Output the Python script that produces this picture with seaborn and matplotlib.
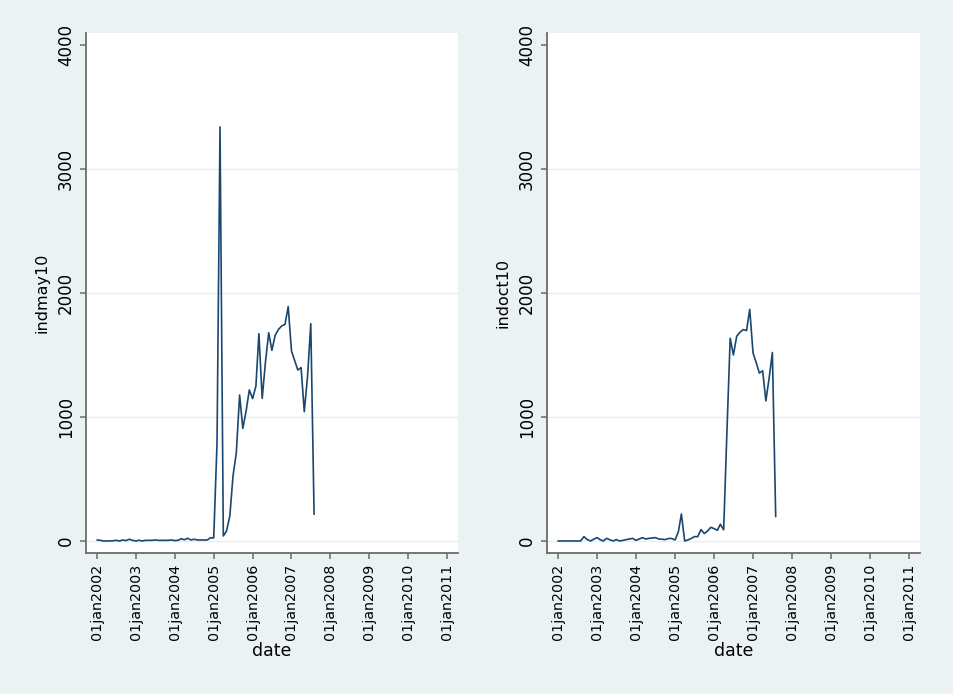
import numpy as np
import pandas as pd
import matplotlib
matplotlib.use("Agg")
import matplotlib.pyplot as plt
import seaborn as sns

# monthly series, Jan 2002 .. Aug 2007 (68 months)
start_month = "2002-01-01"
n_months = 68

indmay10 = [
    8, 5, 0, 0, 0, 2, 5, 0, 8, 3, 14, 5,
    0, 6, 0, 5, 5, 5, 8, 5, 5, 5, 5, 8,
    3, 5, 18, 10, 22, 8, 14, 8, 8, 8, 8, 25,
    25, 793, 3339, 40, 80, 200, 524, 712, 1177, 908, 1048, 1218,
    1148, 1250, 1672, 1150, 1438, 1680, 1538, 1659, 1707, 1734, 1747, 1890,
    1532, 1452, 1379, 1398, 1043, 1331, 1753, 215,
]

indoct10 = [
    0, 0, 0, 0, 0, 0, 0, 0, 35, 12, 0, 14,
    27, 10, 0, 21, 10, 0, 11, 0, 5, 11, 16, 21,
    5, 16, 27, 16, 21, 24, 27, 16, 14, 11, 20, 20,
    8, 75, 218, 0, 8, 20, 35, 35, 92, 60, 80, 110,
    100, 86, 135, 90, 870, 1635, 1500, 1651, 1684, 1705, 1697, 1868,
    1516, 1435, 1354, 1373, 1130, 1316, 1520, 197,
]

tick_years = list(range(2002, 2012))
y_ticks = [0, 1000, 2000, 3000, 4000]

BG = "#eaf2f3"
LINE = "#1a476f"
AXIS = "#6b6b6b"


def style_axis(ax, ylabel):
    ax.set_facecolor("white")
    for side in ["top", "right"]:
        ax.spines[side].set_visible(False)
    for side in ["left", "bottom"]:
        ax.spines[side].set_color(AXIS)
        ax.spines[side].set_linewidth(1.3)

    ticks = pd.to_datetime([f"{y}-01-01" for y in tick_years])
    ax.set_xticks(ticks)
    ax.set_xticklabels([t.strftime("%d%b%Y").lower() for t in ticks],
                       rotation=90, fontsize=10.3, color="black")
    ax.set_xlim(pd.Timestamp("2001-09-20"), pd.Timestamp("2011-04-13"))

    ax.set_yticks(y_ticks)
    ax.set_yticklabels([str(v) for v in y_ticks], rotation=90,
                       va="center", fontsize=12, color="black")
    ax.set_ylim(-97, 4097)

    ax.tick_params(axis="both", direction="out", length=4.5, width=1.1,
                   color=AXIS, pad=3.5, bottom=True, left=True)
    ax.grid(axis="y", color="#e8eff1", linewidth=1.0)
    ax.grid(axis="x", visible=False)
    ax.get_ygridlines()[-1].set_visible(False)

    ax.set_xlabel("date", fontsize=12.5, labelpad=1, color="black")
    ax.set_ylabel(ylabel, fontsize=11.5, labelpad=5, color="black")


def main():
    sns.set_theme(style="white")
    plt.rcParams["font.family"] = ["DejaVu Sans"]

    dates = pd.date_range(start_month, periods=n_months, freq="MS")
    df = pd.DataFrame({"date": dates, "indmay10": indmay10,
                       "indoct10": indoct10})

    fig = plt.figure(figsize=(9.54, 6.94), dpi=100, facecolor=BG)
    ax1 = fig.add_axes([86 / 954, 1 - 553 / 694, 372 / 954, 520 / 694])
    ax2 = fig.add_axes([547 / 954, 1 - 553 / 694, 373 / 954, 520 / 694])

    for ax, col in [(ax1, "indmay10"), (ax2, "indoct10")]:
        sns.lineplot(data=df, x="date", y=col, ax=ax, color=LINE,
                     linewidth=1.2)
        style_axis(ax, col)

    fig.savefig("out.png", dpi=100, facecolor=BG)
    plt.close(fig)


if __name__ == "__main__":
    main()
